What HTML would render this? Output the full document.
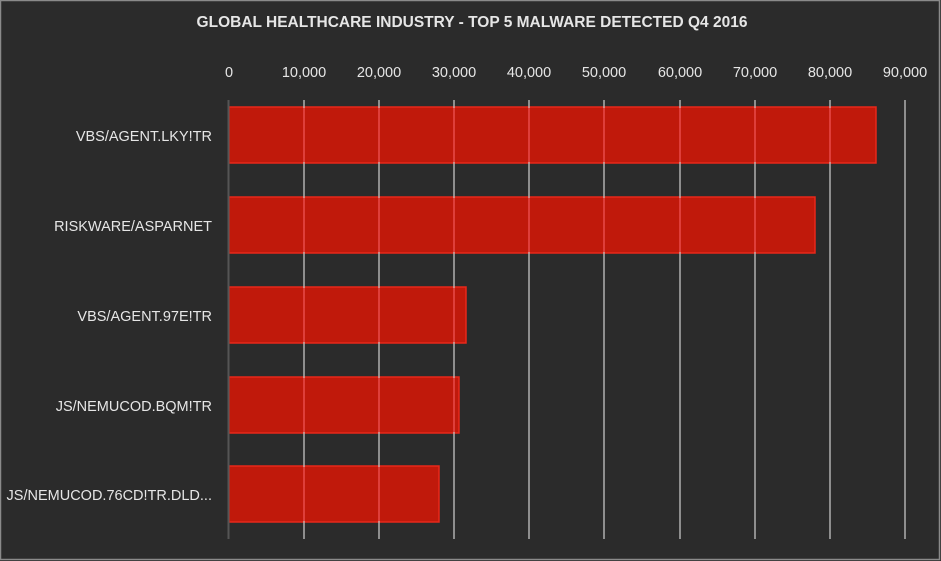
<!DOCTYPE html>
<html><head><style>
body{margin:0;background:#2b2b2b;}
svg{display:block}
text{font-family:"Liberation Sans",sans-serif;fill:#e6e6e6}
</style></head><body>
<svg width="941" height="561" viewBox="0 0 941 561">
<rect x="0" y="0" width="941" height="561" fill="#2b2b2b"/>
<rect x="0.5" y="0.5" width="939" height="559" fill="none" stroke="#8a8a8a" stroke-width="1.5"/>
<text x="472" y="27" text-anchor="middle" font-size="15.5" font-weight="bold">GLOBAL HEALTHCARE INDUSTRY - TOP 5 MALWARE DETECTED Q4 2016</text>
<g font-size="14.5" text-anchor="middle">
<text x="229" y="77">0</text><text x="304" y="77">10,000</text><text x="379" y="77">20,000</text>
<text x="454" y="77">30,000</text><text x="529" y="77">40,000</text><text x="604" y="77">50,000</text>
<text x="680" y="77">60,000</text><text x="755" y="77">70,000</text><text x="830" y="77">80,000</text>
<text x="905" y="77">90,000</text></g>
<g fill="#c0190b" stroke="#e8281a" stroke-width="1.5">
<rect x="229" y="107" width="647" height="56"/>
<rect x="229" y="197" width="586" height="56"/>
<rect x="229" y="287" width="237" height="56"/>
<rect x="229" y="377" width="230" height="56"/>
<rect x="229" y="466" width="210" height="56"/>
</g>
<g stroke="#cfcfcf" stroke-width="1.2">
<line x1="304" y1="100" x2="304" y2="539"/><line x1="379" y1="100" x2="379" y2="539"/>
<line x1="454" y1="100" x2="454" y2="539"/><line x1="529" y1="100" x2="529" y2="539"/>
<line x1="604" y1="100" x2="604" y2="539"/><line x1="680" y1="100" x2="680" y2="539"/>
<line x1="755" y1="100" x2="755" y2="539"/><line x1="830" y1="100" x2="830" y2="539"/>
<line x1="905" y1="100" x2="905" y2="539"/></g>
<g stroke="#f04040" stroke-width="1.2">
<line x1="304" y1="108" x2="304" y2="162"/><line x1="379" y1="108" x2="379" y2="162"/><line x1="454" y1="108" x2="454" y2="162"/><line x1="529" y1="108" x2="529" y2="162"/><line x1="604" y1="108" x2="604" y2="162"/><line x1="680" y1="108" x2="680" y2="162"/><line x1="755" y1="108" x2="755" y2="162"/><line x1="830" y1="108" x2="830" y2="162"/>
<line x1="304" y1="198" x2="304" y2="252"/><line x1="379" y1="198" x2="379" y2="252"/><line x1="454" y1="198" x2="454" y2="252"/><line x1="529" y1="198" x2="529" y2="252"/><line x1="604" y1="198" x2="604" y2="252"/><line x1="680" y1="198" x2="680" y2="252"/><line x1="755" y1="198" x2="755" y2="252"/>
<line x1="304" y1="288" x2="304" y2="342"/><line x1="379" y1="288" x2="379" y2="342"/><line x1="454" y1="288" x2="454" y2="342"/>
<line x1="304" y1="378" x2="304" y2="432"/><line x1="379" y1="378" x2="379" y2="432"/><line x1="454" y1="378" x2="454" y2="432"/>
<line x1="304" y1="467" x2="304" y2="521"/><line x1="379" y1="467" x2="379" y2="521"/>
</g>
<line x1="228.5" y1="100" x2="228.5" y2="539" stroke="#555" stroke-width="2"/>
<g font-size="14.5" text-anchor="end">
<text x="212" y="141">VBS/AGENT.LKY!TR</text>
<text x="212" y="231">RISKWARE/ASPARNET</text>
<text x="212" y="321">VBS/AGENT.97E!TR</text>
<text x="212" y="411">JS/NEMUCOD.BQM!TR</text>
<text x="212" y="500">JS/NEMUCOD.76CD!TR.DLD...</text>
</g>
</svg>
</body></html>
